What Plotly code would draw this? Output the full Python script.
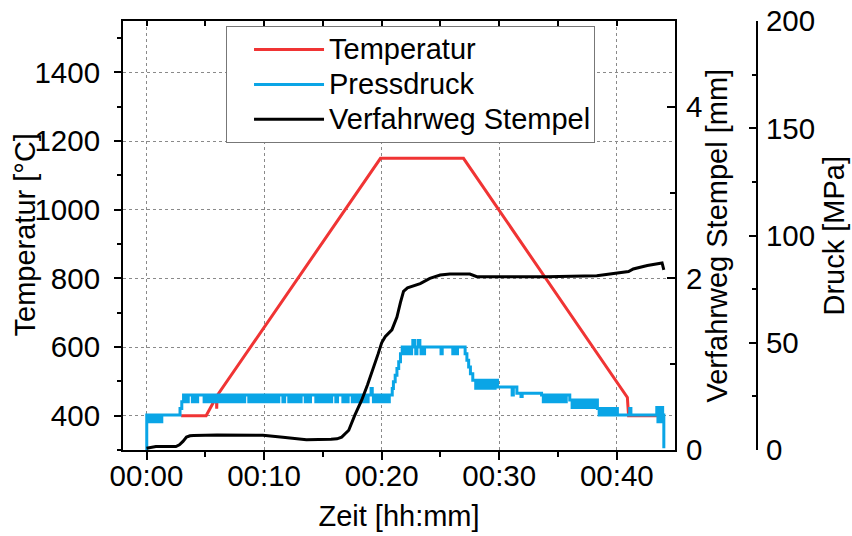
import plotly.graph_objects as go

FONT = "Arial, Liberation Sans, sans-serif"

# ---------------- data (time in minutes) ----------------
temp_t = [2.94, 5.07, 5.95, 5.97, 6.0, 19.9, 26.96, 40.9, 41.0, 44.1]
temp_v = [400, 400, 455, 420, 458, 1150, 1150, 453, 400, 400]

stroke_t = [0.0, 0.5, 0.8, 2.5, 2.8, 3.1, 3.4, 3.7, 4.0, 6.0, 8.0, 9.9, 11.6, 13.6, 15.7,
            16.2, 16.6, 17.2, 17.7, 18.3, 18.8, 19.3, 19.7, 20.0, 20.3, 20.87, 21.3, 21.6,
            21.86, 22.2, 22.43, 23.28, 24.1, 24.98, 25.8, 27.5, 28.1, 30.1, 34.0, 38.3,
            40.0, 41.0, 41.4, 42.6, 43.85, 44.0]
stroke_v = [0.02, 0.03, 0.04, 0.04, 0.06, 0.10, 0.15, 0.165, 0.17, 0.175, 0.175, 0.172, 0.148,
            0.12, 0.125, 0.13, 0.15, 0.23, 0.40, 0.58, 0.76, 0.95, 1.12, 1.25, 1.32, 1.40, 1.55,
            1.72, 1.85, 1.89, 1.90, 1.94, 2.00, 2.04, 2.05, 2.05, 2.02, 2.02, 2.02, 2.03,
            2.06, 2.08, 2.11, 2.15, 2.18, 2.10]

# Pressdruck: explicit steps and toggling bands (times at which the value toggles)
p_start_t = [0.0, 0.02, 0.15, 0.3, 0.45, 0.6, 0.8, 1.0, 1.1, 1.3, 2.85, 3.0, 3.15]
p_start_v = [0.0, 16.3, 13.2, 16.3, 13.2, 16.3, 13.2, 16.3, 13.2, 16.3, 19.4, 22.5, 25.6]
p_band1_t = [3.4, 3.55, 3.9, 4.05, 4.2, 4.35, 4.9, 5.05, 5.2, 5.35, 5.5, 5.65, 5.8, 5.95,
             6.1, 6.25, 6.4, 6.55, 6.7, 6.85, 7.0, 7.15, 7.3, 7.45, 7.6, 7.75, 7.9, 8.05,
             8.2, 8.35, 8.7, 8.85, 9.0, 9.15, 9.3, 9.45, 9.6, 9.75, 9.9, 10.05, 10.2, 10.35,
             10.5, 10.65, 10.8, 10.95, 11.1, 11.25, 11.6, 11.75, 12.1, 12.25, 12.4, 12.55,
             12.7, 12.85, 13.0, 13.15, 13.5, 13.65, 13.8, 13.95, 14.4, 14.55, 14.7, 14.85,
             15.0, 15.15, 15.3, 15.45, 15.6, 15.75, 16.1, 16.25, 16.7, 16.85, 17.0, 17.15,
             17.5, 17.65, 17.8, 17.95, 18.1, 18.25, 18.4, 18.55, 18.7, 18.85]
p_spike1_t = [19.1, 19.2]
p_spike1_v = [28.7, 25.6]
p_band2_t = [19.3, 19.45, 19.6, 19.75, 19.9, 20.05, 20.2, 20.35, 20.5, 20.65]
p_rise_t = [20.9, 21.0, 21.15, 21.3, 21.45, 21.6, 21.75]
p_rise_v = [28.7, 31.8, 34.9, 38.0, 41.1, 44.9, 48.0]
p_band3_t = [21.85, 21.95, 22.05, 22.15, 22.25, 22.35, 22.45, 22.55]
p_spike2_t = [22.65, 22.8]
p_spike2_v = [51.0, 48.0]
p_band4_t = [22.9, 23.0]
p_spike3_t = [23.1, 23.25]
p_spike3_v = [51.0, 48.0]
p_band5_t = [23.35, 23.45, 23.55, 23.65, 25.05, 25.15, 26.05, 26.15, 26.35, 26.45]
p_fall_t = [27.1, 27.25, 27.4, 27.55, 27.75]
p_fall_v = [44.9, 41.8, 38.7, 35.6, 32.5]
p_band6_t = [28.0, 28.15, 28.3, 28.45, 28.6, 28.75, 28.9, 29.05, 29.2, 29.35, 29.5, 29.65]
p_mid_t = [29.85, 31.1, 31.2, 31.5, 31.85, 31.95, 33.6]
p_mid_v = [29.4, 25.6, 29.4, 26.5, 25.0, 26.5, 25.6]
p_band7_t = [33.75, 33.9, 34.05, 34.2, 34.35, 34.5, 34.65, 34.8, 34.95, 35.1, 35.25, 35.4, 35.55, 35.7]
p_step8_t = [36.0]
p_step8_v = [23.3]
p_band8_t = [36.2, 36.35, 36.5, 36.65, 36.8, 36.95, 37.1, 37.25, 37.4, 37.55, 37.7, 37.85, 38.0, 38.15]
p_step9_t = [38.35]
p_step9_v = [19.4]
p_band9_t = [38.5, 38.65, 38.8, 38.95, 39.1, 39.25, 39.4, 39.55, 39.7, 39.85]
p_end_t = [40.05, 41.1, 41.2, 43.4, 43.5, 43.6, 43.7, 43.8, 43.9, 43.98, 44.0]
p_end_v = [16.3, 19.4, 16.3, 19.8, 13.2, 19.8, 13.2, 19.8, 16.3, 16.3, 0.8]

x_ticks = [0, 10, 20, 30, 40]
x_labels = ["00:00", "00:10", "00:20", "00:30", "00:40"]

series_names = ["Temperatur", "Pressdruck", "Verfahrweg Stempel"]


def band(times, hi, lo):
    return list(times), [lo if i % 2 == 0 else hi for i in range(len(times))]


parts = [
    (p_start_t, p_start_v),
    band(p_band1_t, 25.6, 22.5),
    (p_spike1_t, p_spike1_v),
    band(p_band2_t, 25.6, 22.5),
    (p_rise_t, p_rise_v),
    band(p_band3_t, 48.0, 44.9),
    (p_spike2_t, p_spike2_v),
    band(p_band4_t, 48.0, 44.9),
    (p_spike3_t, p_spike3_v),
    band(p_band5_t, 48.0, 44.9),
    (p_fall_t, p_fall_v),
    band(p_band6_t, 32.5, 28.8),
    (p_mid_t, p_mid_v),
    band(p_band7_t, 25.6, 22.5),
    (p_step8_t, p_step8_v),
    band(p_band8_t, 23.3, 19.8),
    (p_step9_t, p_step9_v),
    band(p_band9_t, 19.4, 16.3),
    (p_end_t, p_end_v),
]
press_t, press_v = [], []
for t, v in parts:
    press_t += list(t)
    press_v += list(v)

RED = "#F03434"
BLUE = "#0AA5E6"


def lname(s):
    return "<span style='font-size:29px'>" + s + "</span>"


fig = go.Figure()
fig.add_trace(go.Scatter(x=temp_t, y=temp_v, name=lname(series_names[0]), mode="lines",
                         line=dict(color=RED, width=3), xaxis="x", yaxis="y", legendrank=1))
fig.add_trace(go.Scatter(x=press_t, y=press_v, name=lname(series_names[1]), mode="lines",
                         line=dict(color=BLUE, width=3, shape="hv"), xaxis="x", yaxis="y3",
                         legendrank=2))
fig.add_trace(go.Scatter(x=stroke_t, y=stroke_v, name=lname(series_names[2]), mode="lines",
                         line=dict(color="black", width=3), xaxis="x2", yaxis="y2",
                         legendrank=3))

FS = 29.5
tickfont = dict(family=FONT, size=FS, color="black")
titlefont = dict(family=FONT, size=29, color="black")
grid = dict(showgrid=True, gridcolor="#8a8a8a", gridwidth=1, griddash="3px,3px")

fig.update_layout(
    width=852, height=536,
    margin=dict(l=123, r=95, t=21, b=86, autoexpand=False),
    paper_bgcolor="white", plot_bgcolor="white",
    font=dict(family=FONT, color="black"),
    showlegend=True,
    legend=dict(x=0.1625, y=0.988, xanchor="left", yanchor="top",
                orientation="h", entrywidth=260, entrywidthmode="pixels",
                indentation=22,
                bgcolor="white", bordercolor="#777777", borderwidth=1,
                font=dict(family=FONT, size=24.5, color="black"),
                itemwidth=70, tracegroupgap=0),
    xaxis=dict(domain=[0, 552 / 634], range=[-2.0, 44.95], automargin=False,
               tickmode="array", tickvals=x_ticks, ticktext=x_labels,
               ticks="outside", ticklen=8, tickwidth=2, tickcolor="black",
               minor=dict(tickmode="linear", tick0=0, dtick=5, ticks="outside", ticklen=5,
                          tickwidth=2, tickcolor="black", showgrid=False),
               showline=True, linewidth=2, linecolor="black", zeroline=False,
               tickfont=tickfont, ticklabelstandoff=-9,
               title=dict(text="Zeit [hh:mm]", font=titlefont, standoff=14.5),
               anchor="y", **grid),
    xaxis2=dict(overlaying="x", matches="x", side="top", anchor="y", automargin=False,
                range=[-2.0, 44.95], tickmode="linear", tick0=0, dtick=5,
                ticks="inside", ticklen=5, tickwidth=2, tickcolor="black",
                showticklabels=False, showline=True, linewidth=2, linecolor="black",
                showgrid=False, zeroline=False),
    yaxis=dict(domain=[0, 1], range=[300, 1550], tickmode="linear", tick0=0, dtick=200,
               automargin=False,
               ticks="outside", ticklen=7, tickwidth=2, tickcolor="black",
               minor=dict(tickmode="linear", tick0=0, dtick=100, ticks="outside", ticklen=4,
                          tickwidth=2, tickcolor="black", showgrid=False),
               showline=True, linewidth=2, linecolor="black", zeroline=False,
               tickfont=tickfont, ticklabelstandoff=8,
               anchor="x", **grid),
    yaxis2=dict(overlaying="y", side="right", anchor="x", range=[0, 5], automargin=False,
                tickmode="linear", tick0=0, dtick=2,
                ticks="inside", ticklen=8, tickwidth=2, tickcolor="black",
                minor=dict(tickmode="linear", tick0=0, dtick=1, ticks="inside", ticklen=5,
                           tickwidth=2, tickcolor="black", showgrid=False),
                showline=True, linewidth=2, linecolor="black", showgrid=False, zeroline=False,
                tickfont=tickfont, ticklabelstandoff=3),
    yaxis3=dict(overlaying="y", side="right", anchor="free", position=1.0, range=[0, 200],
                automargin=False,
                tickmode="linear", tick0=0, dtick=50,
                ticks="inside", ticklen=7, tickwidth=2, tickcolor="black",
                minor=dict(tickmode="linear", tick0=0, dtick=25, ticks="inside", ticklen=4,
                           tickwidth=2, tickcolor="black", showgrid=False),
                showline=True, linewidth=2, linecolor="black", showgrid=False, zeroline=False,
                tickfont=tickfont, ticklabelstandoff=2),
    annotations=[
        dict(text="Temperatur [°C]", xref="paper", yref="paper", x=(24 - 123) / 634, y=0.5,
             xanchor="center", yanchor="middle", textangle=-90, showarrow=False, font=titlefont),
        dict(text="Verfahrweg Stempel [mm]", xref="paper", yref="paper", x=(716 - 123) / 634,
             y=0.5, xanchor="center", yanchor="middle", textangle=-90, showarrow=False,
             font=titlefont),
        dict(text="Druck [MPa]", xref="paper", yref="paper", x=(833 - 123) / 634, y=0.5,
             xanchor="center", yanchor="middle", textangle=-90, showarrow=False, font=titlefont),
    ],
)

fig.write_html("out.html")
